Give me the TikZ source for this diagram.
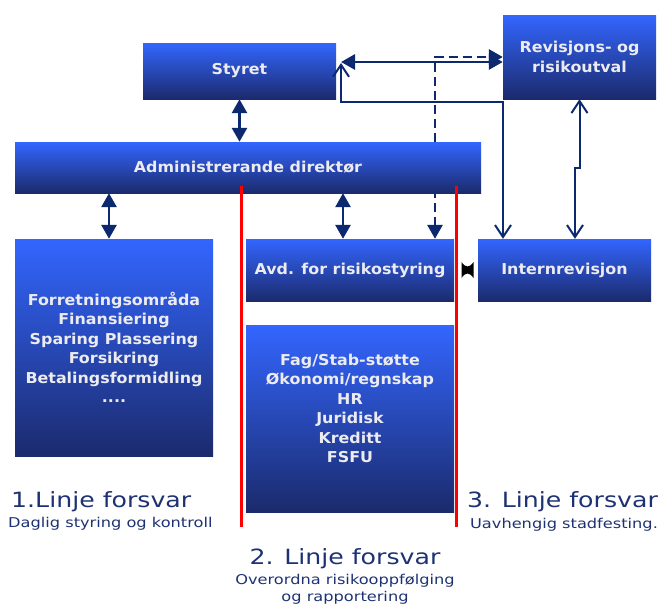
\documentclass[tikz,border=0pt]{standalone}
\usepackage{fontspec}
\usetikzlibrary{arrows.meta,backgrounds,calc}
\newfontfamily\boxfont[FakeStretch=1.06]{DejaVu Sans}
\newfontfamily\labfont[FakeStretch=1.2]{DejaVu Sans}
\definecolor{boxtop}{RGB}{51,102,255}
\definecolor{boxbot}{RGB}{27,42,108}
\definecolor{navy}{RGB}{12,40,110}
\definecolor{labcol}{RGB}{30,50,115}
\definecolor{boxtxt}{RGB}{236,236,240}
\begin{document}
\begin{tikzpicture}[x=1pt,y=-1pt]
\tikzstyle{mytext} = [inner sep=0pt, text=boxtxt, font=\boxfont\bfseries\fontsize{15}{19.5}\selectfont, align=center]
\tikzstyle{mybox} = [mytext, top color=boxtop, bottom color=boxbot]
\tikzstyle{myarrow} = [draw=navy, line width=2.8pt, >={Triangle[length=14pt,width=15pt]}, <->]
\tikzstyle{mydash} = [myarrow, dash pattern=on 9pt off 5pt]
\tikzstyle{myopen} = [draw=navy, line width=2pt, >={Straight Barb[length=12pt,width=16pt]}, <->]
\tikzstyle{redline} = [draw=red, line width=3pt]
\tikzstyle{mytitle} = [text=labcol, font=\labfont\fontsize{21}{24}\selectfont, inner sep=0pt]
\tikzstyle{mysub} = [text=labcol, font=\labfont\fontsize{13.5}{16}\selectfont, inner sep=0pt]
\useasboundingbox (0,0) rectangle (663,606);
% boxes
\node[mybox, minimum width=193pt, minimum height=56pt] (styret) at (239.5,71) {Styret};
\node[mybox, minimum width=153pt, minimum height=84pt] (revisjon) at (579.5,57) {Revisjons- og\\risikoutval};
\node[mybox, minimum width=466pt, minimum height=51pt] (adm) at (248,167.5) {Administrerande direktør};
\node[mybox, minimum width=198pt, minimum height=217pt] (forr) at (114,347.5)
  {Forretningsområda\\Finansiering\\Sparing Plassering\\Forsikring\\Betalingsformidling\\....};
\node[mybox, minimum width=208pt, minimum height=62pt] (avd) at (350,270) {Avd. for risikostyring};
\node[mybox, minimum width=173pt, minimum height=62pt] (intern) at (564.5,270) {Internrevisjon};
\node[mybox, minimum width=208pt, minimum height=187pt] (fag) at (350,418.5) {};
\node[mytext] (fagtekst) at (350,408.5)
  {Fag/Stab-støtte\\Økonomi/regnskap\\HR\\Juridisk\\Kreditt\\FSFU};
% connectors
\begin{pgfonlayer}{background}
\draw[mydash] ([xshift=85pt]avd.north) |- (revisjon.west);
\end{pgfonlayer}
\coordinate (knekk) at (341,102);
\coordinate (topp) at (341,63);
\coordinate (rv) at ([yshift=-5pt]revisjon.west);
\coordinate (jog1) at (579.5,168);
\coordinate (jog2) at (575,168);
\draw[myarrow] (styret.south) -- (styret.south |- adm.north);
\draw[myarrow] ([xshift=-5pt]forr.north) -- ([xshift=-5pt]forr.north |- adm.south);
\draw[myarrow] ([xshift=-7pt]avd.north) -- ([xshift=-7pt]avd.north |- adm.south);
\draw[myarrow] (rv) -- (rv -| knekk);
\draw[myopen] (topp) -- (knekk) -| ([xshift=-61.5pt]intern.north);
\draw[myopen] (revisjon.south) -- (jog1) -- (jog2) -- (jog2 |- intern.north);
\coordinate (bow) at ($(avd.east)!0.5!(intern.west)+(1.5,0)$);
\fill (bow) ++(-6,-8) .. controls +(4,6) and +(-4,6) .. ++(12,0) -- ++(0,16)
  .. controls +(-4,-6) and +(4,-6) .. ++(-12,0) -- cycle;
% lines of defence
\draw[redline] (241,186) -- (241,527);
\draw[redline] (456,186) -- (456,527);
\node[mytitle, anchor=base west] (linje1) at (11,507) {1.Linje forsvar};
\node[mysub, anchor=base west] (sub1) at (8,527) {Daglig styring og kontroll};
\node[mytitle, anchor=base] (linje2) at (345,564) {2. Linje forsvar};
\node[mysub, anchor=base] (sub2a) at (345,584) {Overordna risikooppfølging};
\node[mysub, anchor=base] (sub2b) at (345,601) {og rapportering};
\node[mytitle, anchor=base] (linje3) at (562.5,507) {3. Linje forsvar};
\node[mysub, anchor=base] (sub3) at (564,528) {Uavhengig stadfesting.};
\end{tikzpicture}
\end{document}
